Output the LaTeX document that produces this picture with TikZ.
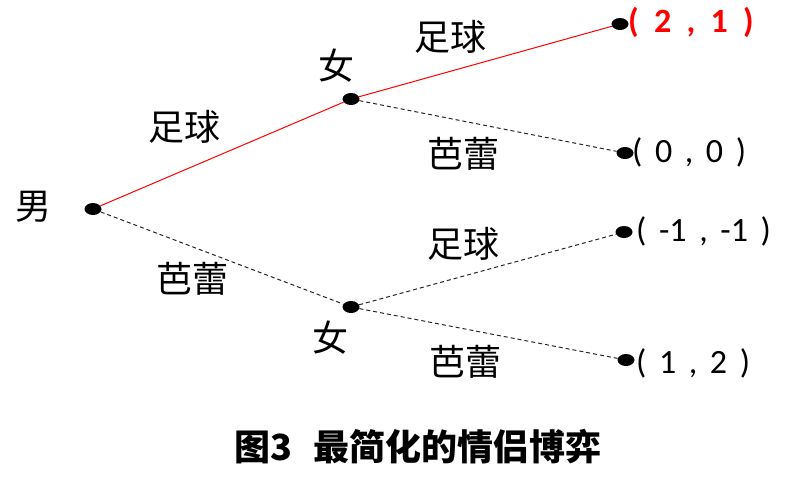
\documentclass[tikz,border=0pt]{standalone}
\usepackage{fontspec}
\setmainfont{Carlito}
\newfontfamily\cjk{Noto Sans CJK SC}
\usetikzlibrary{shapes.geometric}
\newcommand{\gp}{\hspace{0.37em}}
\newcommand{\gpr}{\hspace{0.45em}}
\begin{document}
\begin{tikzpicture}[x=1pt,y=-1pt,
  dot/.style={ellipse,fill=black,inner sep=0pt,minimum width=17pt,minimum height=12pt},
  lbl/.style={font=\cjk\fontsize{36}{42}\selectfont,inner sep=0pt},
  pay/.style={font=\fontsize{34}{40}\selectfont,inner sep=0pt,anchor=west},
  chosen/.style={red,line width=1pt},
  other/.style={black!85,line width=1pt,dash pattern=on 4pt off 3pt}]
\useasboundingbox (0,0) rectangle (795,483);
% decision points
\node[dot] (m)  at (93,209) {};
\node[dot] (fu) at (351,99) {};
\node[dot] (fl) at (351,307) {};
\node[dot] (l1) at (620,24) {};
\node[dot] (l2) at (625,153) {};
\node[dot] (l3) at (624,232) {};
\node[dot] (l4) at (626,360) {};
% connectors
\draw[chosen] (m) -- (fu);
\draw[other]  (m) -- (fl);
\draw[chosen] (fu) -- (l1);
\draw[other]  (fu) -- (l2);
\draw[other]  (fl) -- (l3);
\draw[other]  (fl) -- (l4);
% player labels
\node[lbl] (tm)  at (33,207) {男};
\node[lbl] (tfu) at (336,66) {女};
\node[lbl] (tfl) at (330,338) {女};
% action labels
\node[lbl] (a1) at (184,127) {足球};
\node[lbl] (a2) at (192,279) {芭蕾};
\node[lbl] (a3) at (450,37) {足球};
\node[lbl] (a4) at (463,154) {芭蕾};
\node[lbl] (a5) at (463,244) {足球};
\node[lbl] (a6) at (465,362) {芭蕾};
% payoffs
\node[pay,text=red,font=\bfseries\fontsize{34}{40}\selectfont] (p1) at (628,22) {(\gpr2\gpr,\gpr1\gpr)};
\node[pay] (p2) at (632,152) {(\gp0\gp,\gp0\gp)};
\node[pay] (p3) at (636,231) {(\gp-1\gp,\gp-1\gp)};
\node[pay] (p4) at (636,363) {(\gp1\gp,\gp2\gp)};
% caption
\node[font=\cjk\bfseries\fontsize{36}{42}\selectfont,inner sep=0pt] (cap) at (418,447) {图3\hspace{22pt}最简化的情侣博弈};
\end{tikzpicture}
\end{document}
